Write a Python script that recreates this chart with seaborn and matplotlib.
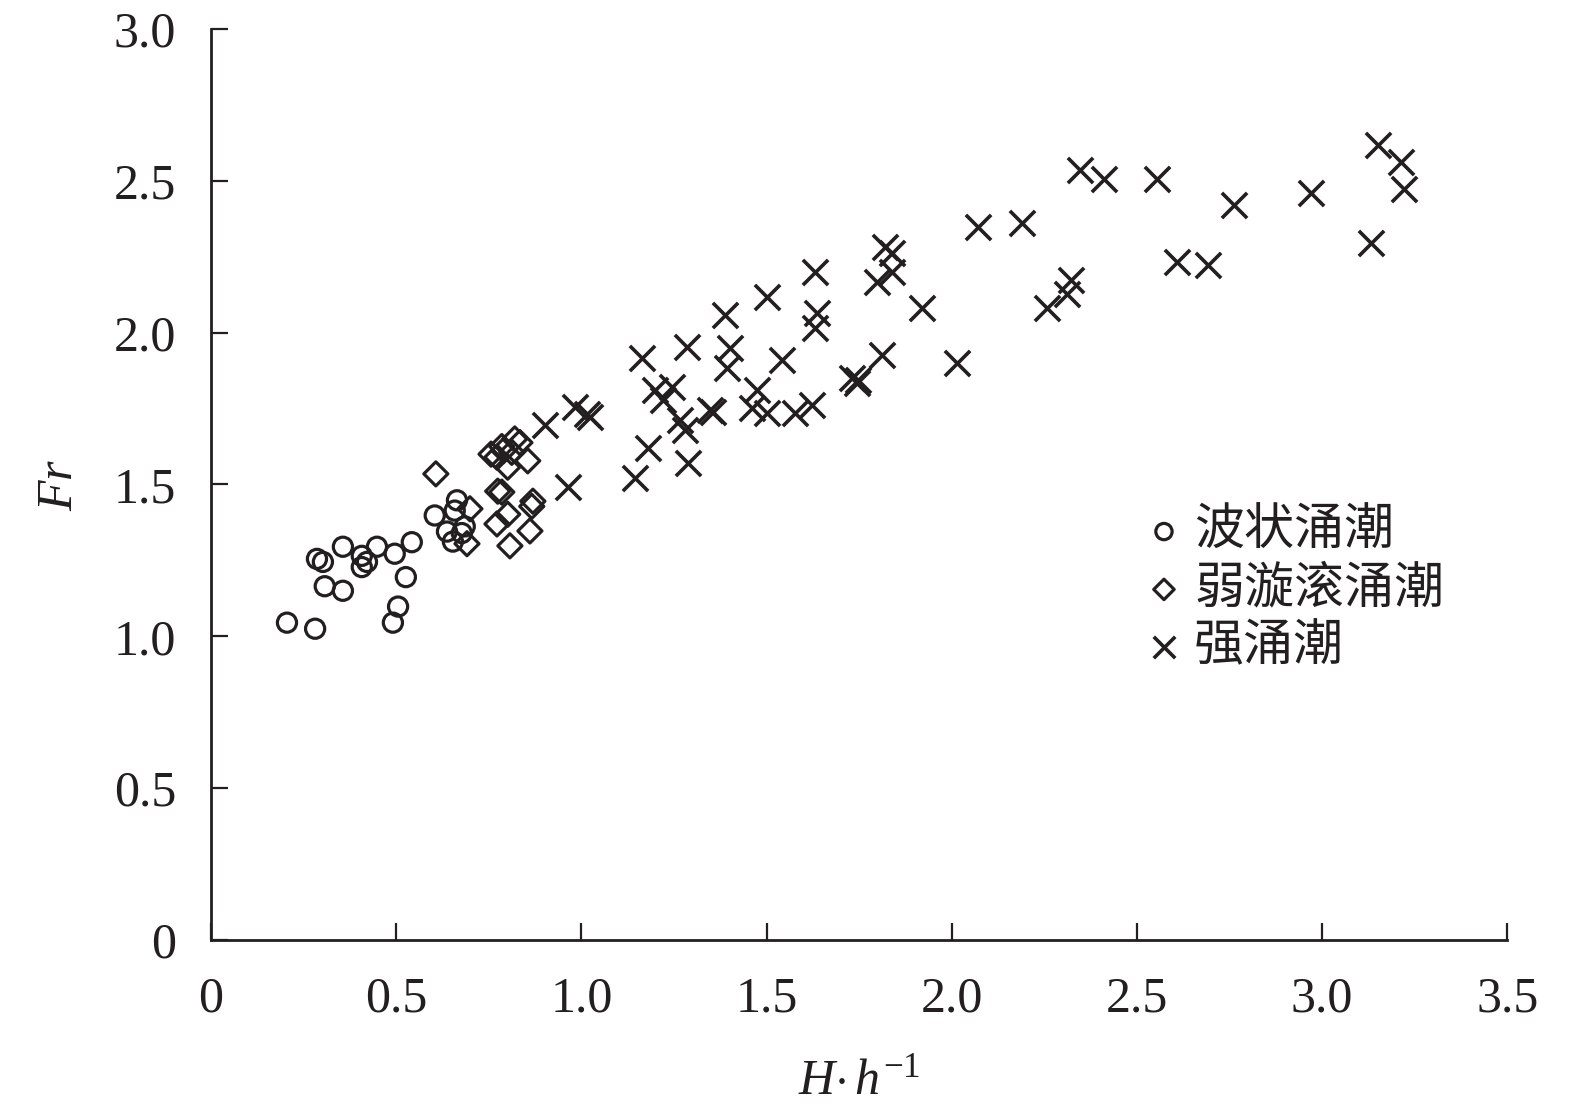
import numpy as np
import pandas as pd
import matplotlib
matplotlib.use("Agg")
import matplotlib.pyplot as plt
import seaborn as sns
from matplotlib.ticker import FuncFormatter, MultipleLocator

# 波状涌潮 (undular bore)
undular_x = [0.205, 0.281, 0.286, 0.302, 0.307, 0.356, 0.356, 0.407, 0.421, 0.407,
             0.448, 0.496, 0.542, 0.526, 0.505, 0.491, 0.604, 0.664, 0.658, 0.637,
             0.653, 0.685, 0.677]
undular_y = [1.045, 1.025, 1.255, 1.245, 1.165, 1.150, 1.295, 1.265, 1.245, 1.228,
             1.295, 1.272, 1.310, 1.195, 1.098, 1.045, 1.398, 1.448, 1.414, 1.345,
             1.312, 1.362, 1.340]

# 弱漩滚涌潮 (weak breaking bore)
weak_x = [0.607, 0.785, 0.834, 0.812, 0.772, 0.855, 0.801, 0.785, 0.774, 0.869,
          0.866, 0.801, 0.772, 0.861, 0.807, 0.699, 0.691, 0.756, 0.79, 0.82]
weak_y = [1.535, 1.625, 1.638, 1.606, 1.590, 1.578, 1.557, 1.475, 1.478, 1.445,
          1.428, 1.402, 1.370, 1.347, 1.298, 1.420, 1.305, 1.600, 1.612, 1.650]

# 强涌潮 (strong bore)
strong_x = [0.901, 0.982, 1.023, 1.015, 0.963, 1.163, 1.179, 1.144, 1.198, 1.244,
            1.220, 1.265, 1.279, 1.284, 1.287, 1.355, 1.346, 1.387, 1.400, 1.392,
            1.473, 1.460, 1.500, 1.500, 1.541, 1.576, 1.624, 1.635, 1.630, 1.632,
            1.732, 1.743, 1.746, 1.811, 1.819, 1.838, 1.838, 1.797, 1.919, 2.013,
            2.070, 2.191, 2.256, 2.312, 2.323, 2.345, 2.412, 2.555, 2.607, 2.693,
            2.763, 2.971, 3.133, 3.152, 3.214, 3.222]
strong_y = [1.696, 1.755, 1.722, 1.732, 1.492, 1.916, 1.620, 1.521, 1.811, 1.821,
            1.778, 1.712, 1.679, 1.953, 1.571, 1.739, 1.745, 2.058, 1.949, 1.883,
            1.811, 1.752, 1.735, 2.117, 1.910, 1.735, 1.762, 2.065, 2.015, 2.200,
            1.851, 1.834, 1.844, 1.926, 2.282, 2.262, 2.200, 2.167, 2.081, 1.900,
            2.348, 2.361, 2.081, 2.127, 2.173, 2.537, 2.506, 2.506, 2.232, 2.223,
            2.420, 2.460, 2.295, 2.618, 2.562, 2.473]

groups = ["波状涌潮", "弱漩滚涌潮", "强涌潮"]

df = pd.concat([
    pd.DataFrame({"x": undular_x, "y": undular_y, "type": groups[0]}),
    pd.DataFrame({"x": weak_x, "y": weak_y, "type": groups[1]}),
    pd.DataFrame({"x": strong_x, "y": strong_y, "type": groups[2]}),
])

sns.set_style("ticks")
plt.rcParams["font.family"] = ["Liberation Serif", "Noto Sans CJK SC"]
plt.rcParams["mathtext.fontset"] = "custom"
plt.rcParams["mathtext.rm"] = "Liberation Serif"
plt.rcParams["mathtext.it"] = "Liberation Serif:italic"

ink = "#231f20"

fig = plt.figure(figsize=(15.75, 11.17), dpi=100)
ax = fig.add_axes([0.134, 0.1585, 0.823, 0.8155])

# 三類涌潮分別畫
sns.scatterplot(data=df[df["type"] == groups[0]], x="x", y="y", marker="o", s=190,
                facecolors="none", edgecolors=ink, linewidths=2.3, ax=ax, label=groups[0])
sns.scatterplot(data=df[df["type"] == groups[1]], x="x", y="y", marker="D", s=150,
                facecolors="none", edgecolors=ink, linewidths=2.3, ax=ax, label=groups[1])
sns.scatterplot(data=df[df["type"] == groups[2]], x="x", y="y", marker="x", s=330,
                color=ink, linewidths=2.6, ax=ax, label=groups[2])

for coll in ax.collections[:2]:
    coll.set_facecolor("none")
    coll.set_edgecolor(ink)

ax.set_xlim(0, 3.5)
ax.set_ylim(0, 3.0)
ax.xaxis.set_major_locator(MultipleLocator(0.5))
ax.yaxis.set_major_locator(MultipleLocator(0.5))
fmt = FuncFormatter(lambda v, p: "0" if abs(v) < 1e-9 else f"{v:.1f}")
ax.xaxis.set_major_formatter(fmt)
ax.yaxis.set_major_formatter(fmt)

ax.tick_params(direction="in", length=12, width=1.6, colors=ink, labelsize=36)
ax.tick_params(axis="x", pad=26)
ax.tick_params(axis="y", pad=25)
for side in ["top", "right"]:
    ax.spines[side].set_visible(False)
for side in ["left", "bottom"]:
    ax.spines[side].set_linewidth(2.0)
    ax.spines[side].set_color(ink)

ax.set_xlabel(r"$H{\cdot}\,h^{\mathrm{-1}}$", fontsize=36, color=ink, labelpad=26)
ax.set_ylabel(r"$Fr$", fontsize=36, color=ink, labelpad=22)

leg = ax.legend(loc="center left", bbox_to_anchor=(0.685, 0.384), frameon=False,
                fontsize=36, markerscale=0.85, handletextpad=0.2,
                labelspacing=0.22, handlelength=0.8)
for t in leg.get_texts():
    t.set_color(ink)

fig.savefig("out.png", dpi=100)
